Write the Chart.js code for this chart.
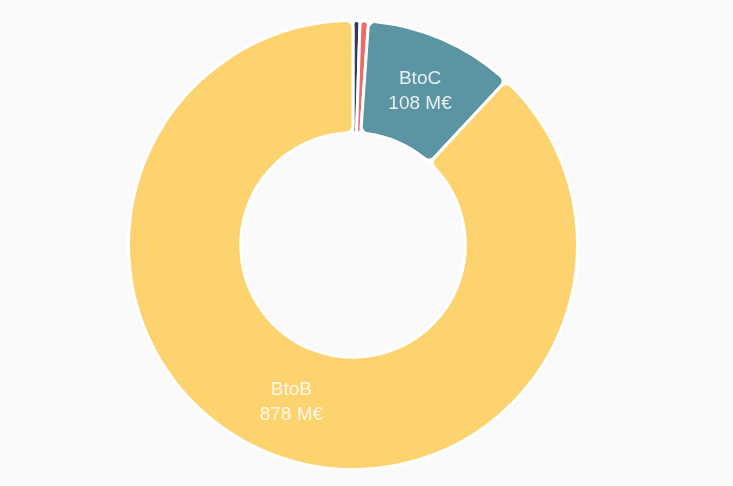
<!DOCTYPE html>
<html>
<head>
<meta charset="utf-8">
<script src="https://cdn.jsdelivr.net/npm/chart.js@4"></script>
<style>
    html, body { margin: 0; padding: 0; background: #fafafa; }
    #wrap { width: 733px; height: 486px; }
</style>
</head>
<body>
<div id="wrap"><canvas id="myChart" width="733" height="486"></canvas></div>
<script>
const labels = ['Autre', 'Export', 'BtoC', 'BtoB'];
const values = [5, 6, 108, 878];
const colors = ['#2f3a62', '#f0696a', '#5b95a3', '#fcd36e'];
const unit = ' M€';

// draws "label / value" in the middle of the bigger slices
const sliceLabels = {
    id: 'sliceLabels',
    afterDatasetsDraw(chart) {
        const ctx = chart.ctx;
        const meta = chart.getDatasetMeta(0);
        ctx.save();
        ctx.font = '19px "Liberation Sans", Arial, sans-serif';
        ctx.fillStyle = 'rgba(255, 255, 255, 0.85)';
        ctx.textAlign = 'center';
        ctx.textBaseline = 'middle';
        meta.data.forEach((arc, i) => {
            if (values[i] < 50) return;
            const p = arc.tooltipPosition();
            ctx.fillText(labels[i], p.x, p.y - 12);
            ctx.fillText(values[i] + unit, p.x, p.y + 13);
        });
        ctx.restore();
    }
};

const ctx = document.getElementById('myChart').getContext('2d');
const chart = new Chart(ctx, {
    type: 'doughnut',
    data: {
        labels: labels,
        datasets: [{
            data: values,
            backgroundColor: colors,
            borderColor: '#ffffff',
            borderWidth: 3,
            borderRadius: 7
        }]
    },
    options: {
        responsive: false,
        animation: false,
        cutout: '50%',
        layout: {
            padding: { top: 19, bottom: 15, left: 0, right: 27 }
        },
        plugins: {
            legend: { display: false },
            tooltip: { enabled: false }
        }
    },
    plugins: [sliceLabels]
});
</script>
</body>
</html>
